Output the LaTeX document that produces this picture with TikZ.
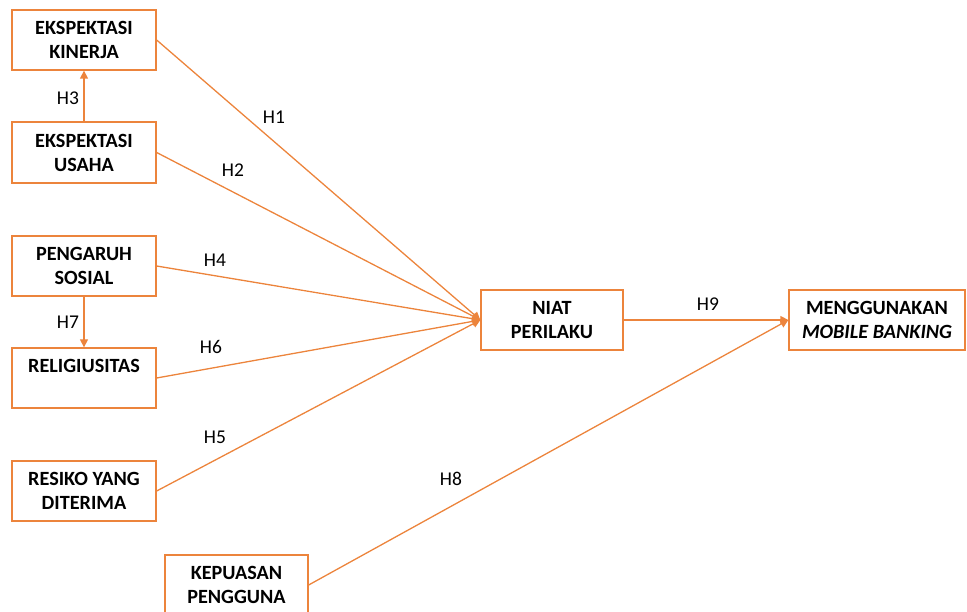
\documentclass[tikz,border=0pt]{standalone}
\usepackage{fontspec}
\setmainfont{Carlito}
\usetikzlibrary{arrows.meta}
\definecolor{org}{RGB}{236,132,60}
\begin{document}
\begin{tikzpicture}[x=1pt,y=-1pt,
  box/.style={draw=org,line width=1.3pt,fill=white,minimum height=60pt,inner sep=0pt,align=center,font=\fontsize{20.2}{24}\selectfont\bfseries},
  lbl/.style={font=\fontsize{19.5}{22}\selectfont,inner sep=0pt},
  conn/.style={draw=org,line width=1.3pt,-{Triangle[length=8pt,width=8pt]}}]
\useasboundingbox (0,0) rectangle (967,612);
\node[box,minimum width=144pt] (ek) at (84,40) {EKSPEKTASI\\KINERJA};
\node[box,minimum width=144pt,minimum height=61pt] (eu) at (84,152.5) {EKSPEKTASI\\USAHA};
\node[box,minimum width=144pt] (ps) at (84,266) {PENGARUH\\SOSIAL};
\node[box,minimum width=144pt] (rel) at (84,378) {RELIGIUSITAS\\\phantom{X}};
\node[box,minimum width=144pt] (rs) at (84,491) {RESIKO YANG\\DITERIMA};
\node[box,minimum width=143pt] (kp) at (236.5,585) {KEPUASAN\\PENGGUNA};
\node[box,minimum width=142pt] (ni) at (552,320) {NIAT\\PERILAKU};
\node[box,minimum width=176pt] (mg) at (877,320) {MENGGUNAKAN\\\textit{MOBILE BANKING}};
\draw[conn] (ek.east) -- (ni.west);
\draw[conn] (eu.east) -- (ni.west);
\draw[conn] (ps.east) -- (ni.west);
\draw[conn] (rel.east) -- (ni.west);
\draw[conn] (rs.east) -- (ni.west);
\draw[conn] (ni.east) -- (mg.west);
\draw[conn] (kp.east) -- (mg.west);
\draw[conn] (eu.north) -- (ek.south);
\draw[conn] (ps.south) -- (rel.north);
\node[lbl] (h1) at (274,117) {H1};
\node[lbl] (h2) at (233,170) {H2};
\node[lbl] (h3) at (68,98) {H3};
\node[lbl] (h4) at (215,260) {H4};
\node[lbl] (h5) at (215,437) {H5};
\node[lbl] (h6) at (211,347) {H6};
\node[lbl] (h7) at (68,322) {H7};
\node[lbl] (h8) at (451,479) {H8};
\node[lbl] (h9) at (708,304) {H9};
\end{tikzpicture}
\end{document}
